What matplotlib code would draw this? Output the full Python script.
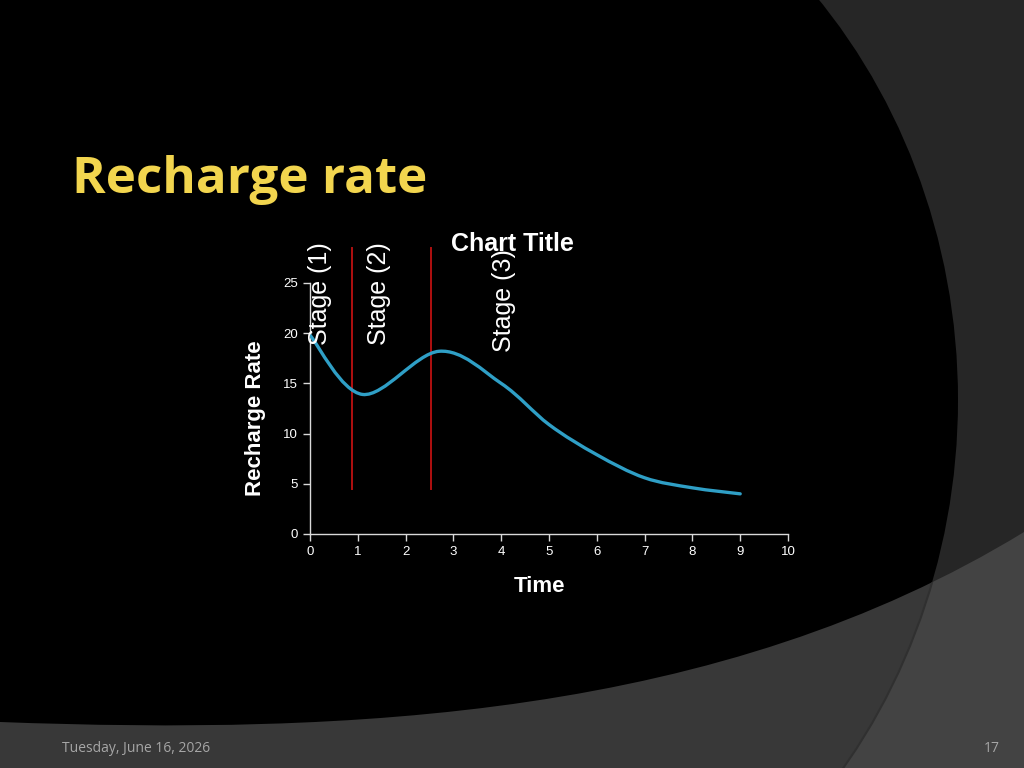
import numpy as np
import matplotlib
matplotlib.use("Agg")
import matplotlib.pyplot as plt
from matplotlib.patches import Ellipse, PathPatch
from matplotlib.path import Path

# chart data
time = [0, 1.1, 2.7, 4, 5, 6, 7, 8, 9]
rate = [19.8, 13.9, 18.2, 15.0, 10.9, 7.9, 5.6, 4.6, 4.0]
stage_lines = [0.87, 2.54]
stage_labels = ["Stage (1)", "Stage (2)", "Stage (3)"]
stage_label_x = [0.2, 1.45, 4.05]
stage_label_y = [18.8, 18.8, 18.1]
xticks = list(range(0, 11))
yticks = [0, 5, 10, 15, 20, 25]


def smooth_path(xs, ys):
    # bezier through the points, like a "smoothed line" in a spreadsheet chart
    pts = np.column_stack([xs, ys]).astype(float)
    n = len(pts)
    verts = [pts[0]]
    codes = [Path.MOVETO]
    for i in range(n - 1):
        p0 = pts[max(i - 1, 0)]
        p1 = pts[i]
        p2 = pts[i + 1]
        p3 = pts[min(i + 2, n - 1)]
        c1 = p1 + (p2 - p0) / 6
        c2 = p2 - (p3 - p1) / 6
        verts += [c1, c2, p2]
        codes += [Path.CURVE4] * 3
    return Path(verts, codes)


plt.rcParams['font.family'] = ['Liberation Sans', 'DejaVu Sans']
fig = plt.figure(figsize=(10.24, 7.68), dpi=100)
fig.patch.set_facecolor('#262626')

# slide background shapes (pixel coords)
bg = fig.add_axes([0, 0, 1, 1])
bg.set_xlim(0, 1024)
bg.set_ylim(768, 0)
bg.axis('off')
band_path = Path([(0, 722), (350, 735), (720, 718), (1024, 532),
                  (1024, 800), (0, 800), (0, 722)],
                 [Path.MOVETO, Path.CURVE4, Path.CURVE4, Path.CURVE4,
                  Path.LINETO, Path.LINETO, Path.CLOSEPOLY])
bg.add_patch(PathPatch(band_path, facecolor='#434343', edgecolor='none', zorder=1))
ell = Ellipse((400, 400), 2 * 558, 2 * 606, facecolor='black', edgecolor='none', zorder=2)
bg.add_patch(ell)
inner = PathPatch(band_path, facecolor='#383838', edgecolor='none', zorder=3)
bg.add_patch(inner)
inner.set_clip_path(ell)
ell_edge = Ellipse((400, 400), 2 * 558, 2 * 606, facecolor='none', edgecolor='#303030',
                   lw=1.5, zorder=4)
bg.add_patch(ell_edge)
ell_edge.set_clip_path(PathPatch(band_path, transform=bg.transData))

# slide texts
fig.text(72 / 1024, 1 - 193 / 768, "Recharge rate", family=['Open Sans', 'DejaVu Sans'],
         fontsize=36.8, fontweight='bold', color='#f2d54e', va='baseline', ha='left')
fig.text(62 / 1024, 1 - 749 / 768, "Tuesday, June 16, 2026", family=['Open Sans', 'DejaVu Sans'],
         fontsize=10, color='#a6a6a6', va='center', ha='left')
fig.text(1000 / 1024, 1 - 749 / 768, "17", family=['Open Sans', 'DejaVu Sans'],
         fontsize=10, color='#a6a6a6', va='center', ha='right')

# chart
ax = fig.add_axes([310 / 1024, 1 - 534 / 768, 478 / 1024, 251 / 768])
ax.set_facecolor('none')
ax.set_xlim(0, 10)
ax.set_ylim(0, 25)
ax.set_xticks(xticks)
ax.set_yticks(yticks)
for side in ['top', 'right']:
    ax.spines[side].set_visible(False)
for side in ['left', 'bottom']:
    ax.spines[side].set_color('#d9d9d9')
    ax.spines[side].set_linewidth(1)
ax.tick_params(colors='#d9d9d9', labelcolor='white', labelsize=9.5, length=5, width=1, direction='out')

ax.add_patch(PathPatch(smooth_path(time, rate), facecolor='none', edgecolor='#2f9fc6',
                       lw=2.4, capstyle='round', zorder=3))

for xv in stage_lines:
    ax.plot([xv, xv], [4.5, 28.5], color='#b01010', lw=1.4, clip_on=False, zorder=2)

for lab, lx, ly in zip(stage_labels, stage_label_x, stage_label_y):
    ax.text(lx, ly, lab, rotation=90, fontsize=18, color='white',
            ha='center', va='bottom', zorder=4, clip_on=False)

fig.text(512 / 1024, 1 - 244 / 768, "Chart Title", fontsize=18, fontweight='bold',
         color='white', ha='center', va='center')
fig.text(255 / 1024, 1 - 418 / 768, "Recharge Rate", fontsize=16, fontweight='bold',
         color='white', ha='center', va='center', rotation=90)
fig.text(540 / 1024, 1 - 587 / 768, "Time", fontsize=16, fontweight='bold',
         color='white', ha='center', va='center')

fig.savefig("out.png", dpi=100, facecolor=fig.get_facecolor())
